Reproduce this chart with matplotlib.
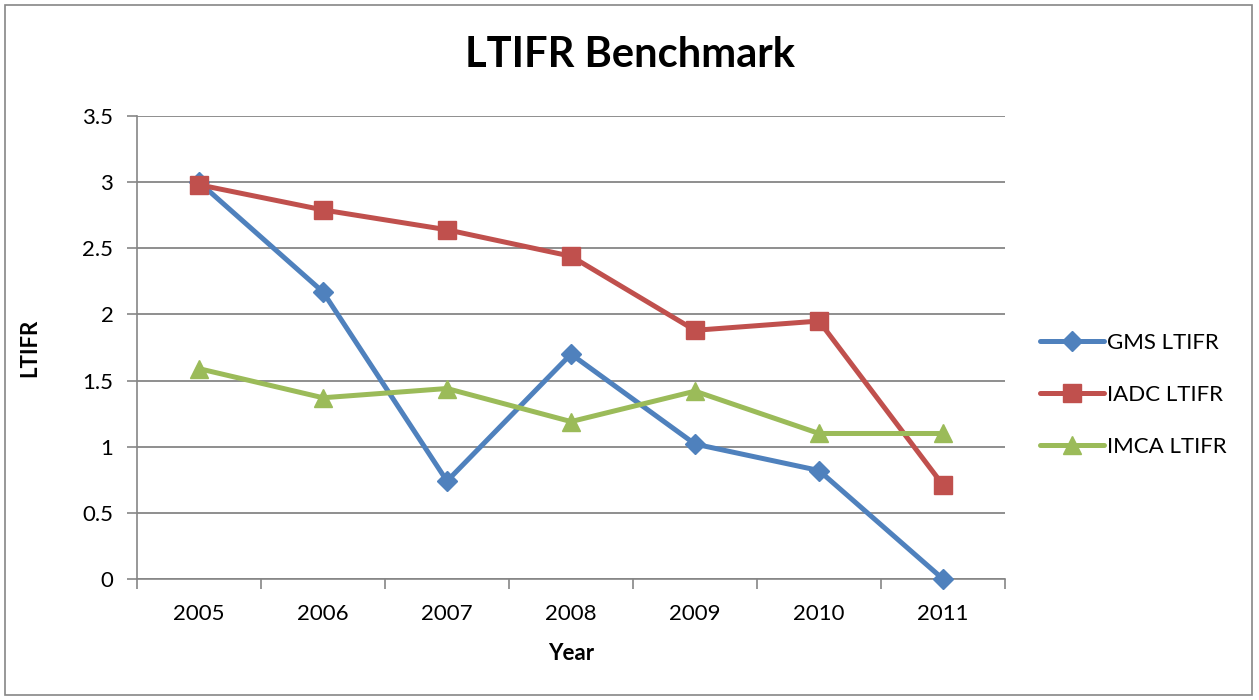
import matplotlib
matplotlib.use("Agg")
import matplotlib.pyplot as plt
from matplotlib.patches import Rectangle

years = ["2005", "2006", "2007", "2008", "2009", "2010", "2011"]
gms = [3.0, 2.17, 0.74, 1.70, 1.02, 0.82, 0.0]
iadc = [2.98, 2.79, 2.64, 2.44, 1.88, 1.95, 0.71]
imca = [1.59, 1.37, 1.44, 1.19, 1.42, 1.10, 1.10]
series_names = ["GMS LTIFR", "IADC LTIFR", "IMCA LTIFR"]
y_ticks = [0, 0.5, 1, 1.5, 2, 2.5, 3, 3.5]
y_tick_labels = ["0", "0.5", "1", "1.5", "2", "2.5", "3", "3.5"]

plt.rcParams['font.family'] = ['Lato', 'DejaVu Sans']

fig = plt.figure(figsize=(12.59, 7.0), dpi=100)
fig.patches.append(Rectangle((5/1259, 5/700), 1247/1259, 690/700, transform=fig.transFigure,
                             fill=False, edgecolor='#868686', linewidth=1.2))
ax = fig.add_axes([137/1259, 1-579/700, (1005-137)/1259, (579-116)/700])

x = list(range(len(years)))
colors = ['#4F81BD', '#C0504D', '#9BBB59']
markers = ['D', 's', '^']
msizes = [10, 13, 13]
for vals, c, m, ms, name in zip([gms, iadc, imca], colors, markers, msizes, series_names):
    ax.plot(x, vals, color=c, linewidth=3.6, marker=m, markersize=ms, label=name,
            markeredgecolor=c, solid_capstyle='round', zorder=3, clip_on=False)

ax.set_xlim(-0.5, len(years) - 0.5)
ax.set_ylim(0, 3.5)
ax.set_yticks(y_ticks)
ax.set_yticklabels(y_tick_labels, fontsize=16)
ax.set_xticks(x)
ax.set_xticklabels(years, fontsize=16)
ax.tick_params(axis='x', which='major', length=0, pad=18)
ax.set_xticks([i + 0.5 for i in range(-1, len(years))], minor=True)
ax.tick_params(axis='x', which='minor', length=7, color='#868686', width=1.2)
ax.tick_params(axis='y', length=7, color='#868686', width=1.2, pad=10)
ax.yaxis.grid(True, color='#868686', linewidth=1.3, zorder=0)
ax.set_axisbelow(True)
for s in ['top', 'right']:
    ax.spines[s].set_visible(False)
for s in ['left', 'bottom']:
    ax.spines[s].set_color('#868686')
    ax.spines[s].set_linewidth(1.2)

ax.set_xlabel("Year", fontsize=16, fontweight='bold', labelpad=14)
ax.set_ylabel("LTIFR", fontsize=16, fontweight='bold', labelpad=30)
fig.text(630/1259, 1-55/700, "LTIFR Benchmark", fontsize=30, fontweight='bold',
         ha='center', va='center')

ax.legend(loc='center left', bbox_to_anchor=(1020/1259, 1-395/700), bbox_transform=fig.transFigure,
          frameon=False, fontsize=16, handlelength=2.9, labelspacing=1.45, handletextpad=0.1)

fig.savefig("out.png", dpi=100)
